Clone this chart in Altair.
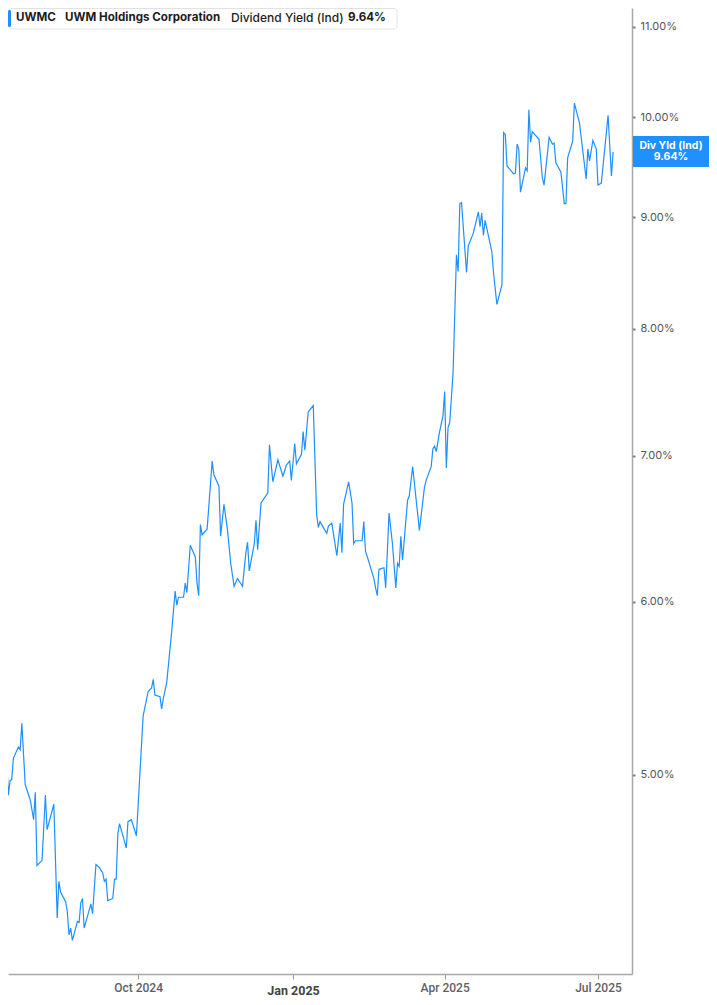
import altair as alt
import pandas as pd

# ---- data (days relative to 2024-10-01, dividend yield in %) ----
day_offsets = [
    -82, -81, -78, -77, -76, -75, -74, -71, -70, -69,
    -67, -64, -62, -61, -60, -57, -55, -54, -50, -48,
    -47, -46, -43, -42, -41, -40, -39, -36, -35, -34,
    -33, -32, -28, -27, -25, -23, -21, -20, -19, -18,
    -15, -14, -13, -12, -11, -7, -6, -4, -3, -1,
    0, 3, 6, 8, 9, 10, 13, 14, 15, 17,
    20, 22, 23, 24, 27, 28, 29, 31, 34, 35,
    36, 37, 38, 41, 44, 45, 48, 49, 51, 53,
    55, 57, 59, 62, 64, 65, 66, 69, 70, 71,
    73, 77, 78, 80, 83, 86, 88, 90, 91, 93,
    94, 97, 98, 99, 101, 104, 106, 107, 108, 112,
    113, 115, 118, 120, 121, 122, 125, 127, 128, 129,
    133, 134, 135, 137, 140, 141, 142, 143, 146, 147,
    149, 151, 153, 154, 155, 156, 157, 160, 161, 163,
    167, 170, 171, 174, 175, 176, 177, 179, 181, 182,
    183, 184, 185, 187, 189, 190, 191, 192, 195, 196,
    199, 202, 203, 204, 205, 206, 210, 211, 213, 216,
    217, 218, 219, 221, 223, 224, 225, 226, 227, 230,
    231, 232, 233, 234, 238, 240, 241, 244, 246, 247,
    248, 251, 253, 254, 255, 258, 259, 262, 266, 267,
    268, 270, 272, 273, 275, 279, 281, 282,
]
yield_pct = [
    5.38, 5.24, 5.09, 4.895, 4.97, 4.976, 5.09, 5.15, 5.135, 5.28,
    4.95, 4.87, 4.77, 4.91, 4.545, 4.57, 4.896, 4.72, 4.848, 4.30,
    4.47, 4.42, 4.375, 4.33, 4.225, 4.255, 4.20, 4.285, 4.28, 4.37,
    4.39, 4.255, 4.365, 4.32, 4.55, 4.536, 4.51, 4.47, 4.48, 4.38,
    4.39, 4.48, 4.48, 4.70, 4.75, 4.63, 4.76, 4.77, 4.743, 4.69,
    4.836, 5.32, 5.46, 5.48, 5.53, 5.44, 5.43, 5.36, 5.42, 5.51,
    5.82, 6.07, 5.98, 6.03, 6.03, 6.12, 6.06, 6.37, 6.29, 6.12,
    6.04, 6.51, 6.44, 6.48, 6.96, 6.86, 6.78, 6.43, 6.65, 6.48,
    6.25, 6.10, 6.15, 6.10, 6.32, 6.39, 6.20, 6.38, 6.54, 6.34,
    6.66, 6.73, 7.08, 6.81, 6.97, 6.85, 6.93, 6.96, 6.82, 7.09,
    6.94, 7.01, 7.18, 7.04, 7.33, 7.38, 6.58, 6.49, 6.53, 6.45,
    6.50, 6.52, 6.30, 6.52, 6.32, 6.65, 6.81, 6.66, 6.38, 6.40,
    6.40, 6.53, 6.33, 6.26, 6.15, 6.09, 6.04, 6.21, 6.22, 6.09,
    6.59, 6.38, 6.09, 6.25, 6.23, 6.43, 6.27, 6.68, 6.71, 6.92,
    6.47, 6.77, 6.82, 6.92, 7.05, 7.07, 7.03, 7.18, 7.30, 7.49,
    6.91, 7.21, 7.25, 7.64, 8.65, 8.50, 9.13, 9.14, 8.49, 8.73,
    8.85, 9.05, 8.91, 9.04, 8.83, 8.97, 8.68, 8.49, 8.21, 8.38,
    9.84, 9.82, 9.50, 9.46, 9.42, 9.43, 9.72, 9.67, 9.24, 9.48,
    9.45, 10.08, 9.74, 9.85, 9.77, 9.38, 9.31, 9.79, 9.72, 9.73,
    9.53, 9.44, 9.13, 9.13, 9.58, 9.75, 10.15, 9.94, 9.37, 9.67,
    9.55, 9.76, 9.67, 9.31, 9.33, 10.02, 9.40, 9.64,
]

y_ticks = [5, 6, 7, 8, 9, 10, 11]
ticker = "UWMC"
company = "UWM Holdings Corporation"
metric = "Dividend Yield (Ind)"
metric_short = "Div Yld (Ind)"
latest = 9.64

base = pd.Timestamp("2024-10-01")
df = pd.DataFrame({
    "date": base + pd.to_timedelta(day_offsets, unit="D"),
    "yield": yield_pct,
})

BLUE = "#1E90FF"
FONT = "Inter"
one = pd.DataFrame({"k": [0]})

x_axis = alt.Axis(
    values=[
        alt.DateTime(year=2024, month=10, date=1),
        alt.DateTime(year=2025, month=1, date=1),
        alt.DateTime(year=2025, month=4, date=1),
        alt.DateTime(year=2025, month=7, date=1),
    ],
    labelExpr="timeFormat(datum.value, '%b %Y')",
    title=None,
    grid=False,
    domainColor="#a8a8a8",
    domainWidth=1.5,
    tickColor="#999999",
    tickSize=5,
    labelFont="Roboto",
    labelColor={"condition": {"test": "month(datum.value) == 0", "value": "#444444"}, "value": "#5f5f5f"},
    labelFontSize={"condition": {"test": "month(datum.value) == 0", "value": 12.5}, "value": 12},
    labelFontWeight={"condition": {"test": "month(datum.value) == 0", "value": "bold"}, "value": 500},
    labelPadding={"condition": {"test": "month(datum.value) == 0", "value": 5}, "value": 3},
    labelOverlap=False,
    labelFlush=False,
)

y_axis = alt.Axis(
    orient="right",
    values=y_ticks,
    labelExpr="format(datum.value, '.2f') + '%'",
    title=None,
    grid=False,
    domainColor="#a8a8a8",
    domainWidth=1.5,
    tickColor="#777777",
    tickSize=3,
    tickWidth=2,
    labelPadding=5,
    labelFont=FONT,
    labelFontSize=11,
    labelColor="#555555",
)

line = alt.Chart(df).mark_line(color=BLUE, strokeWidth=1.2, clip=True).encode(
    x=alt.X(
        "date:T",
        scale=alt.Scale(domain=[
            alt.DateTime(year=2024, month=7, date=15, hours=19),
            alt.DateTime(year=2025, month=7, date=21, hours=5),
        ]),
        axis=x_axis,
    ),
    y=alt.Y(
        "yield:Q",
        scale=alt.Scale(type="log", domain=[4.054, 11.22], nice=False, zero=False),
        axis=y_axis,
    ),
)

header_box = alt.Chart(one).mark_rect(
    fill="white", stroke="#e2e2e2", strokeWidth=1, cornerRadius=3
).encode(x=alt.value(0.5), x2=alt.value(389), y=alt.value(0.5), y2=alt.value(21))

header_bar = alt.Chart(one).mark_rect(fill=BLUE, cornerRadius=1.5).encode(
    x=alt.value(0), x2=alt.value(3), y=alt.value(2), y2=alt.value(19)
)


def htext(txt, xpos, weight="bold", size=11.6):
    return alt.Chart(one).mark_text(
        text=txt, font=FONT, fontSize=size, fontWeight=weight, color="#1c1c1c",
        align="left", baseline="middle",
    ).encode(x=alt.value(xpos), y=alt.value(9.5))


header_texts = [
    htext(ticker, 8),
    htext(company, 57),
    htext(metric, 223, 500, 12),
    htext(f"{latest:.2f}%", 340),
]

label_box = alt.Chart(one).mark_rect(fill=BLUE).encode(
    x=alt.value(625), x2=alt.value(701), y=alt.value(128), y2=alt.value(159)
)
label_t1 = alt.Chart(one).mark_text(
    text=metric_short, font=FONT, fontSize=10.5, fontWeight="bold", color="white",
    align="center", baseline="middle",
).encode(x=alt.value(663), y=alt.value(138))
label_t2 = alt.Chart(one).mark_text(
    text=f"{latest:.2f}%", font=FONT, fontSize=10.5, fontWeight="bold", color="white",
    align="center", baseline="middle",
).encode(x=alt.value(663), y=alt.value(149))

chart = alt.layer(
    line, header_box, header_bar, *header_texts, label_box, label_t1, label_t2
).properties(
    width=624,
    height=966,
    padding={"left": 0, "top": 0, "right": 77, "bottom": 23},
    autosize=alt.AutoSizeParams(type="none"),
    background="white",
).configure_view(stroke="transparent")

chart.save("out.html", embed_options={"renderer": "svg", "actions": False})
